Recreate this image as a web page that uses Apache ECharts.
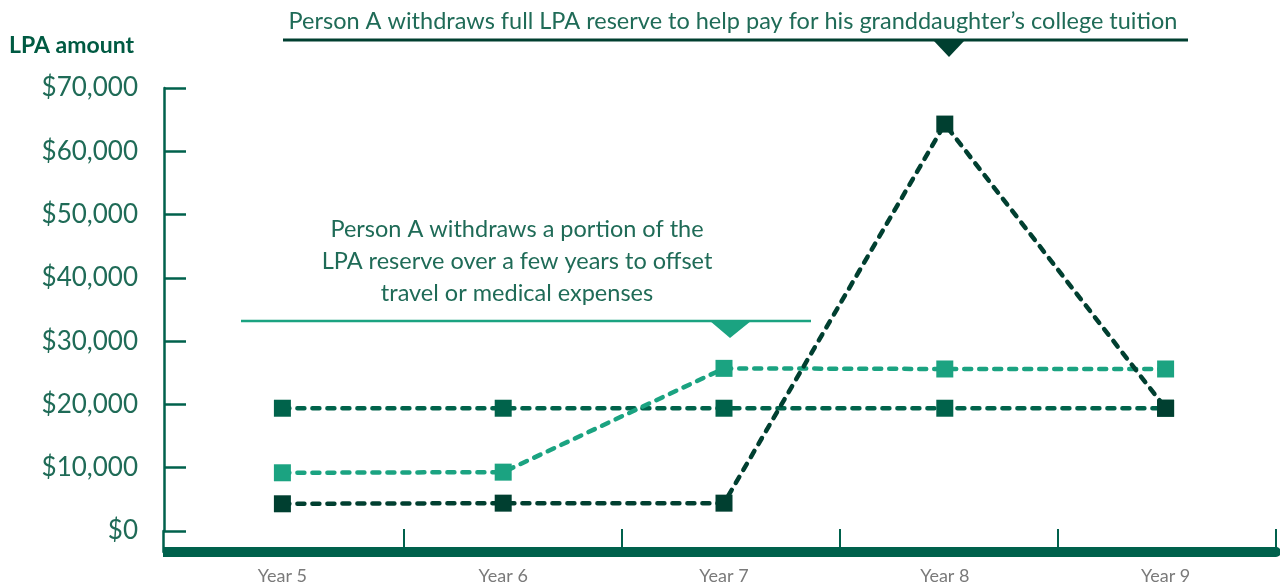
<!DOCTYPE html>
<html>
<head>
<meta charset="utf-8">
<script src="https://cdn.jsdelivr.net/npm/echarts@6/dist/echarts.min.js"></script>
<style>
  html, body { margin: 0; padding: 0; background: #fff; }
  #chart { width: 1280px; height: 585px; }
</style>
</head>
<body>
<div id="chart"></div>
<script>
// data
const years = ["Year 5", "Year 6", "Year 7", "Year 8", "Year 9"];
const flatReserve = [19400, 19400, 19400, 19400, 19400];
const portionReserve = [9200, 9300, 25700, 25600, 25600];
const fullReserve = [4300, 4400, 4400, 64300, 19400];
const yTicks = { min: 0, max: 70000, step: 10000 };

const noteTop = "Person A withdraws full LPA reserve to help pay for his granddaughter\u2019s college tuition";
const noteMid = "Person A withdraws a portion of the\nLPA reserve over a few years to offset\ntravel or medical expenses";

const axisGreen = "#00614c";
const textGreen = "#1f6b57";
const dark = "#003f30";
const mid = "#00634b";
const light = "#1ba381";
const font = "Lato, 'Open Sans', sans-serif";

function lineSeries(name, data, color) {
  return {
    name: name,
    type: "line",
    data: data,
    symbol: "rect",
    symbolSize: 17,
    itemStyle: { color: color },
    lineStyle: { color: color, width: 4.5, type: [7, 8], cap: "round" },
    emphasis: { disabled: true },
  };
}

const chart = echarts.init(document.getElementById("chart"));
chart.setOption({
  animation: false,
  grid: [
    { left: 172, right: 4, top: 88, bottom: 54 },
    { left: 186, right: 4, top: 531, bottom: 33 },
  ],
  xAxis: [
    {
      type: "category",
      gridIndex: 0,
      data: years,
      axisLine: { show: false },
      axisTick: { show: false },
      axisLabel: { margin: 36, color: "#7a7a7a", fontSize: 18, fontFamily: font },
    },
    {
      // thick base bar with its year dividers
      type: "category",
      gridIndex: 1,
      data: ["", "", "", "", ""],
      axisLine: { show: true, lineStyle: { color: axisGreen, width: 10 } },
      axisTick: {
        show: true,
        interval: (i) => i > 0,
        inside: true,
        length: 23,
        lineStyle: { color: axisGreen, width: 2 },
      },
      axisLabel: { show: true, interval: 0 },
    },
  ],
  yAxis: [
    {
      type: "value",
      gridIndex: 0,
      min: yTicks.min,
      max: yTicks.max,
      interval: yTicks.step,
      offset: 8,
      splitLine: { show: false },
      axisLine: { show: true, lineStyle: { color: axisGreen, width: 2.5 } },
      axisTick: { show: true, inside: true, length: 22, lineStyle: { color: axisGreen, width: 2.5 } },
      axisLabel: {
        margin: 26,
        color: textGreen,
        fontSize: 26,
        fontFamily: font,
        formatter: (v) => "$" + v.toLocaleString("en-US"),
      },
    },
    {
      type: "value",
      gridIndex: 1,
      offset: 23,
      axisLine: { show: true, lineStyle: { color: axisGreen, width: 2.5 } },
      axisTick: { show: false },
      axisLabel: { show: false },
      splitLine: { show: false },
    },
  ],
  series: [
    lineSeries("flat", flatReserve, mid),
    lineSeries("portion", portionReserve, light),
    lineSeries("full", fullReserve, dark),
  ],
  graphic: [
    {
      type: "text",
      left: 9,
      top: 34,
      style: { text: "LPA amount", fill: "#005a42", font: "bold 23px " + font },
    },
    // corner piece of the bottom bar
    { type: "rect", shape: { x: 163, y: 547, width: 23, height: 10 }, style: { fill: axisGreen } },
    // top note
    {
      type: "text",
      x: 733,
      y: 21,
      style: { text: noteTop, fill: textGreen, font: "23.5px " + font, align: "center", verticalAlign: "middle" },
    },
    { type: "line", shape: { x1: 283, y1: 40, x2: 1188, y2: 40 }, style: { stroke: dark, lineWidth: 3 } },
    { type: "polygon", shape: { points: [[933, 40], [965, 40], [949, 57]] }, style: { fill: dark } },
    // middle note
    {
      type: "text",
      x: 517,
      y: 261,
      style: { text: noteMid, fill: textGreen, font: "23.5px " + font, lineHeight: 32, align: "center", verticalAlign: "middle" },
    },
    { type: "line", shape: { x1: 241, y1: 321, x2: 811, y2: 321 }, style: { stroke: light, lineWidth: 2.5 } },
    { type: "polygon", shape: { points: [[710, 321], [751, 321], [730, 338]] }, style: { fill: light } },
  ],
});
</script>
</body>
</html>
